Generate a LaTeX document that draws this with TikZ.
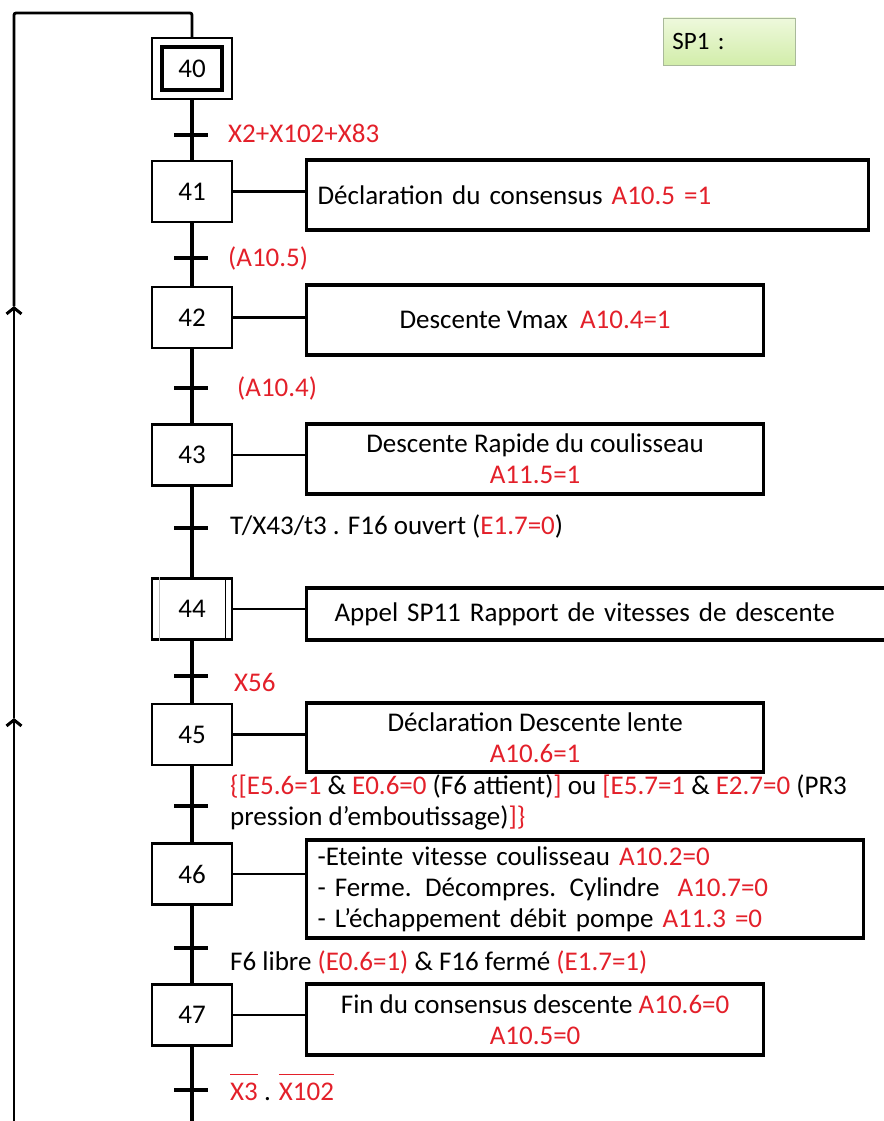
\documentclass[tikz,border=0pt]{standalone}
\usepackage{fontspec}
\setmainfont{Carlito}
\usetikzlibrary{arrows.meta}
\definecolor{rd}{HTML}{E3202A}
\definecolor{spborder}{HTML}{A9B99A}
\definecolor{sptop}{HTML}{EEF9DC}
\definecolor{spbot}{HTML}{D2EDAA}
\newcommand\rt[1]{\textcolor{rd}{#1}}
% negated variable: red text under a red bar
\newcommand\ovl[1]{\textcolor{rd}{\leavevmode\vbox{\hrule height 1.6pt\kern 7pt\hbox{#1}}}}

\begin{document}
\begin{tikzpicture}[x=1pt,y=-1pt,
  every node/.style={font=\fontsize{27}{31}\selectfont},
  stepbox/.style={draw,line width=2.8pt,minimum width=80pt,minimum height=61pt,inner sep=0pt},
  actbox/.style={draw,line width=3.2pt,anchor=west,inner sep=0pt},
  lnk/.style={line width=2.2pt},
  flow/.style={line width=3.6pt},
  tick/.style={line width=3.6pt},
  loopline/.style={line width=2.8pt},
  uparrow/.style={-{Straight Barb[length=6pt,width=15pt,line width=3pt]}},
  cond/.style={anchor=west,inner sep=0pt,align=left},
]
\useasboundingbox (0,0) rectangle (883,1121);

% ---- steps ----
\node[stepbox,line width=2.2pt] (s40) at (192,68.5) {};
\node[draw,line width=3.4pt,minimum width=60pt,minimum height=43pt,inner sep=0pt] (s40i) at (s40) {40};
\node[stepbox] (s41) at (192,191.5) {41};
\node[stepbox] (s42) at (192,317.5) {42};
\node[stepbox] (s43) at (192,455) {43};
\node[stepbox] (s44) at (192,609) {44};
\node[stepbox] (s45) at (192,734.5) {45};
\node[stepbox] (s46) at (192,874) {46};
\node[stepbox] (s47) at (192,1015) {47};
\draw[line width=1.6pt] ([xshift=-8pt]s44.north east) -- ([xshift=-8pt]s44.south east);
\draw[line width=0.8pt,black!25] ([xshift=9pt]s44.north west) -- ([xshift=9pt]s44.south west);

% ---- actions ----
\node[actbox,inner xsep=11pt,text width=540pt,align=left,minimum height=70pt] (a41) at (305,195)
  {Déclaration du consensus \rt{A10.5 =1}};
\node[actbox,minimum width=457pt,minimum height=70pt,align=center] (a42) at (305,320)
  {Descente Vmax~~\rt{A10.4=1}};
\node[actbox,minimum width=457pt,minimum height=70pt,align=center] (a43) at (305,459)
  {Descente Rapide du coulisseau\\\rt{A11.5=1}};
\node[actbox,inner xsep=28pt,text width=539pt,align=left,minimum height=52pt] (a44) at (305,614)
  {Appel SP11 Rapport de vitesses de descente};
\node[actbox,minimum width=457pt,minimum height=69pt,align=center] (a45) at (305,737.5)
  {Déclaration Descente lente\\\rt{A10.6=1}};
\node[actbox,inner xsep=11pt,text width=535pt,align=left,minimum height=98pt] (a46) at (305,889)
  {-Eteinte vitesse coulisseau \rt{A10.2=0}\\
   - Ferme. Décompres. Cylindre~~\rt{A10.7=0}\\
   - L’échappement débit pompe \rt{A11.3 =0}};
\node[actbox,minimum width=457pt,minimum height=71pt,align=center] (a47) at (305,1019.5)
  {Fin du consensus descente \rt{A10.6=0}\\\rt{A10.5=0}};

\foreach \s in {41,42,43,44,45,46,47}
  \draw[lnk] (s\s.east) -- (s\s.east -| a\s.west);

% ---- transitions ----
\coordinate (t40) at (192,135);
\coordinate (t41) at (192,258);
\coordinate (t42) at (192,388);
\coordinate (t43) at (192,528);
\coordinate (t44) at (192,676);
\coordinate (t45) at (192,806);
\coordinate (t46) at (192,948);
\coordinate (t47) at (192,1090);
\coordinate (mainend) at (192,1121);

\draw[flow] (s40) -- (s41);
\draw[flow] (s41) -- (s42);
\draw[flow] (s42) -- (s43);
\draw[flow] (s43) -- (s44);
\draw[flow] (s44) -- (s45);
\draw[flow] (s45) -- (s46);
\draw[flow] (s46) -- (s47);
\draw[flow] (s47) -- (mainend);

\foreach \t in {40,41,42,43,44,45,46,47}
  \draw[tick] ([xshift=-18pt]t\t) -- ([xshift=16pt]t\t);

\node[cond] (c40) at (228,133) {\rt{X2+X102+X83}};
\node[cond] (c41) at (228,258) {\rt{(A10.5)}};
\node[cond] (c42) at (237,388) {\rt{(A10.4)}};
\node[cond] (c43) at (230,526) {T/X43/t3 . F16 ouvert (\rt{E1.7=0})};
\node[cond] (c44) at (234,682) {\rt{X56}};
\node[cond] (c45) at (230,802)
  {\rt{\{[E5.6=1} \& \rt{E0.6=0} (F6 attient)\rt{]} ou \rt{[E5.7=1} \& \rt{E2.7=0} (PR3\\
   pression d’emboutissage)\rt{]\}}};
\node[cond] (c46) at (230,962) {F6 libre \rt{(E0.6=1)} \& F16 fermé \rt{(E1.7=1)}};
\node[cond,anchor=base west] (c47) at (230,1100) {\ovl{X3} . \ovl{X102}};

% ---- loop back to the initial step ----
\coordinate (lb) at (14,1121);
\coordinate (m1) at (14,718);
\coordinate (m2) at (14,306);
\coordinate (lt) at (14,13);
\draw[loopline,uparrow] (lb) -- (m1);
\draw[loopline,uparrow] (m1) -- (m2);
\draw[loopline,rounded corners=2pt] (m2) -- (lt) -| (s40.north);

% ---- sub-program tag ----
\node[draw=spborder,line width=0.8pt,top color=sptop,bottom color=spbot,anchor=west,
      minimum height=47pt,inner xsep=9pt,text width=114pt,align=left,
      font=\fontsize{25}{30}\selectfont] (sp) at (663,41.5) {SP1 :};
\end{tikzpicture}
\end{document}
